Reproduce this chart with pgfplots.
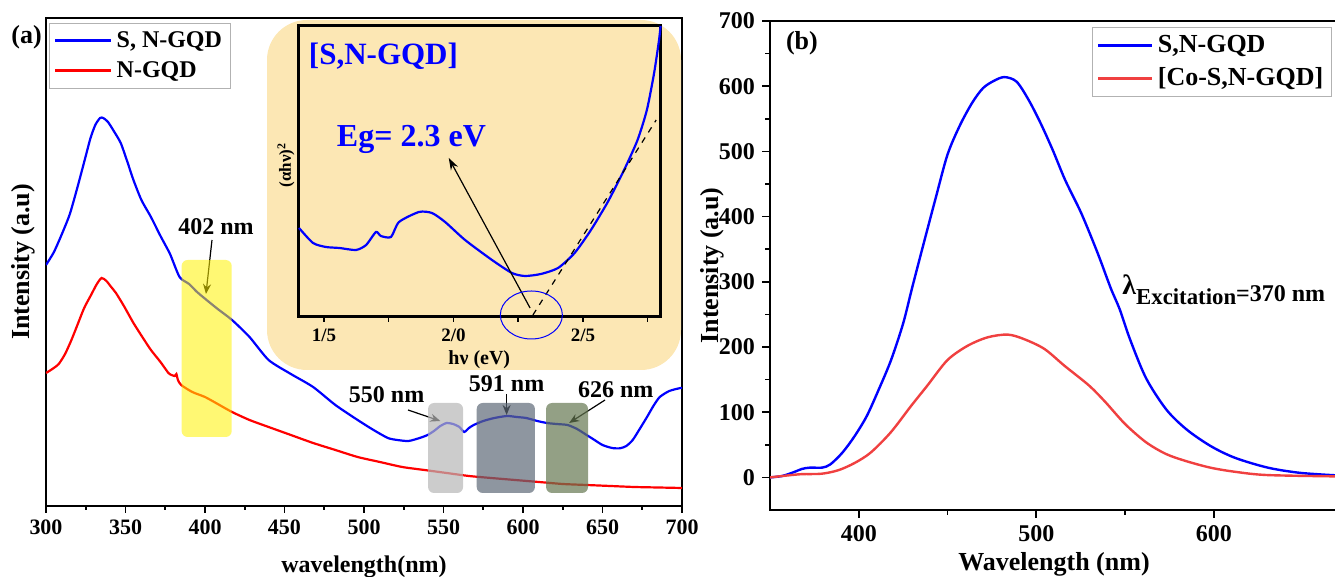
\documentclass[border=0pt]{standalone}
\usepackage{fontspec}
\setmainfont{Liberation Serif}
\usepackage{pgfplots}
\pgfplotsset{compat=1.18}
\usetikzlibrary{arrows.meta}
\definecolor{bgor}{RGB}{252,231,180}
\definecolor{rectgray}{RGB}{182,182,182}
\definecolor{rectslate}{RGB}{94,105,119}
\definecolor{rectgreen}{RGB}{101,119,81}
\definecolor{redb}{RGB}{240,64,64}
\newcommand{\fs}[1]{\bfseries\fontsize{#1}{#1}\selectfont}
\begin{document}
\begin{tikzpicture}[x=1pt,y=1pt]
\useasboundingbox (0,0) rectangle (667.5,288.5);
% ---------------- panel (a)
\begin{axis}[name=A, at={(23pt,35.5pt)}, anchor=south west,
  width=318pt, height=244pt, scale only axis,
  xmin=300, xmax=700, ymin=0, ymax=488,
  axis line style={line width=1pt},
  xtick={300,350,...,700}, minor x tick num=1, ytick=\empty,
  xtick pos=bottom, tick align=outside,
  major tick length=3.5pt, minor tick length=2pt,
  every tick/.style={black, line width=0.8pt},
  /pgf/number format/assume math mode=true,
  xticklabel style={font=\fs{11}},
  xlabel={wavelength(nm)},
  xlabel style={font=\fs{12}, at={(axis description cs:0.5,-0.137)}, anchor=base},
  ylabel={Intensity (a.u)},
  ylabel style={font=\fs{13}, at={(axis description cs:-0.036,0.5)}, anchor=center},
  legend style={at={(0.005,0.99)}, anchor=north west, draw=gray!60, line width=0.5pt,
    font=\fs{12}, row sep=1.5pt, inner sep=2pt, cells={anchor=west}},
  legend image code/.code={\draw[#1, line width=1.5pt] (0pt,0pt) -- (28pt,0pt);},
]
\addplot[blue, line width=1.1pt, smooth, tension=0.4] coordinates {
(300,241)(305,254)(310,272)(315,292)(320,320)(325,350)(328,368)(331,381)(334,388)(336,388)
(339,384)(343,374)(347,363)(351,345)(355,326)(360,306)(366,289)(372,270)(378,252)(384,229)
(390,222)(395,214)(401,206)(408,197)(417,186)(428,169)(440,146)(454,132)(468,119)(482,101)
(496,86)(506,76)(515,68)(521,66)(528,65)(535,68)(540,71)(544,75)(548,80)(552,83)(556,82)
(560,79)(563,74)(566,78)(569,81)(575,85)(582,88)(590,90)(596,89)(602,88)(609,85)(615,83)
(621,82)(628,81)(634,77)(640,71)(645,66)(650,61)(656,58)(661,57.7)(665,60)(669,66)(673,76)
(678,89)(682,100)(686,109)(692,115)(699,118)(700,118)};
\addlegendentry{S, N-GQD}
\addplot[red, line width=1.1pt, smooth, tension=0.4] coordinates {
(300,133)(304,137)(308,142)(312,152)(316,166)(320,182)(324,198)(328,210)(332,222)(335,228)
(338,225)(341,219)(344,213)(349,200)(355,183)(361,168)(366,156)(372,144)(377,133)(379,131)
(381,130)(382,132)(383,126)(385,121)(392,114)(400,109)(408,102)(417,94)(428,86)(440,79)
(454,71)(468,63)(482,56)(496,49)(510,44)(524,39)(538,36)(552,33)(566,30)(580,28)(595,26)
(610,24)(625,22)(640,21)(655,20)(670,19)(685,18.5)(700,18)};
\addlegendentry{N-GQD}
% annotation arrows
\draw[-{Stealth[length=5pt,width=4pt]}, line width=0.6pt] (axis cs:404.4,266) -- (axis cs:400.6,212);
\draw[-{Stealth[length=5pt,width=4pt]}, line width=0.6pt] (axis cs:527.7,96) -- (axis cs:548,85);
\draw[-{Stealth[length=5pt,width=4pt]}, line width=0.6pt] (axis cs:589.7,112) -- (axis cs:589.7,91);
\draw[-{Stealth[length=5pt,width=4pt]}, line width=0.6pt] (axis cs:651.6,106) -- (axis cs:629,83);
% translucent rectangles
\fill[yellow, fill opacity=0.55, rounded corners=3pt] (axis cs:385.3,69) rectangle (axis cs:416.8,246);
\fill[rectgray, fill opacity=0.7, rounded corners=3pt] (axis cs:540.3,13) rectangle (axis cs:562.3,103);
\fill[rectslate, fill opacity=0.7, rounded corners=3pt] (axis cs:570.9,13) rectangle (axis cs:607.5,103);
\fill[rectgreen, fill opacity=0.7, rounded corners=3pt] (axis cs:614.5,13) rectangle (axis cs:640.9,103);
% labels
\node[font=\fs{12}, anchor=base] at (axis cs:406.9,271) {402 nm};
\node[font=\fs{12}, anchor=base] at (axis cs:514.2,103) {550 nm};
\node[font=\fs{12}, anchor=base] at (axis cs:589.7,114) {591 nm};
\node[font=\fs{12}, anchor=base] at (axis cs:658.3,108) {626 nm};
\end{axis}
\node[font=\fs{13}] at (13.25pt,270pt) {(a)};
% inset background
\fill[bgor, rounded corners=20pt] (133.5pt,103.5pt) rectangle (340.5pt,278.5pt);
% ---------------- inset
\begin{axis}[name=I, at={(149pt,130pt)}, anchor=south west,
  width=181.3pt, height=145.5pt, scale only axis,
  xmin=1.4, xmax=2.8, ymin=0, ymax=291,
  axis line style={line width=1.5pt},
  xtick={1.5,2,2.5}, xticklabels={1/5,2/0,2/5},
  minor xtick={1.75,2.25,2.75}, ytick=\empty,
  xtick pos=bottom, tick align=outside,
  major tick length=2.5pt, minor tick length=2.5pt,
  every tick/.style={black, line width=0.8pt},
  xticklabel style={font=\fs{9.5}},
  xlabel={hν (eV)},
  xlabel style={font=\fs{10}, at={(axis description cs:0.5,-0.148)}, anchor=center},
  ylabel={(αhν)\textsuperscript{2}},
  ylabel style={font=\fs{8.5}, at={(axis description cs:-0.033,0.522)}, anchor=center},
  clip=false,
]
\addplot[blue, line width=1.1pt, smooth, tension=0.4] coordinates {
(1.404,89)(1.458,74)(1.508,70)(1.560,69)(1.624,67)(1.663,72)(1.701,85)(1.720,81)(1.759,80)
(1.790,95)(1.867,105)(1.917,104)(1.968,95)(2.045,77)(2.149,57)(2.226,44)(2.276,41)(2.338,43)
(2.404,49)(2.468,64)(2.531,87)(2.596,115)(2.659,147)(2.711,177)(2.747,207)(2.775,244)(2.794,277)(2.8,291)};
\addplot[black, dashed, line width=0.6pt] coordinates {(2.307,2) (2.783,197)};
\draw[-{Stealth[length=6pt,width=4pt]}, line width=0.6pt] (axis cs:2.296,9) -- (axis cs:1.982,159);
\draw[blue, line width=0.5pt] (axis cs:2.301,2) ellipse [x radius=15.5pt, y radius=12pt];
\node[font=\fs{15.5}, text=blue, anchor=base] at (axis cs:1.730,252) {[S,N-GQD]};
\node[font=\fs{16}, text=blue, anchor=base] at (axis cs:1.838,170) {Eg= 2.3 eV};
\end{axis}
% ---------------- panel (b)
\begin{axis}[name=B, at={(385pt,33.5pt)}, anchor=south west,
  width=284pt, height=244.5pt, scale only axis,
  xmin=350, xmax=670, ymin=-50, ymax=700,
  axis line style={line width=1.2pt},
  xtick={400,500,600}, minor x tick num=1,
  ytick={0,100,...,700}, minor y tick num=1,
  tick pos=left, tick align=outside,
  major tick length=4pt, minor tick length=2.5pt,
  every tick/.style={black, line width=0.8pt},
  /pgf/number format/assume math mode=true,
  ticklabel style={font=\fs{12}},
  xlabel={Wavelength (nm)},
  xlabel style={font=\fs{13}, at={(axis description cs:0.5,-0.123)}, anchor=base},
  ylabel={Intensity (a.u)},
  ylabel style={font=\fs{13}, at={(axis description cs:-0.102,0.5)}, anchor=center},
  legend style={at={(0.989,0.9877)}, anchor=north east, draw=gray!60, line width=0.5pt,
    font=\fs{13}, row sep=2pt, inner sep=2pt, cells={anchor=west}},
  legend image code/.code={\draw[#1, line width=1.5pt] (0pt,0pt) -- (27pt,0pt);},
]
\addplot[blue, line width=1.2pt, smooth, tension=0.5] coordinates {
(350,0)(356.6,2)(363.4,8)(368,13)(372.6,15)(379.4,15)(384,20)(390.8,38)(397.6,63)(404.5,94)
(411.3,135)(418.2,180)(425,236)(430,290)(436.5,358)(443.3,428)(450,495)(457,540)(464,575)
(470,597)(476,608)(482,614)(488.9,607)(495.7,579)(502.5,543)(509.3,502)(516.3,456)(525.4,405)
(534.6,344)(542,290)(547,258)(552.8,212)(561.9,152)(573.3,104)(584.7,73.5)(598.3,48)(612,30)
(630.4,15)(648.5,7)(670,3)};
\addlegendentry{S,N-GQD}
\addplot[redb, line width=1.2pt, smooth, tension=0.5] coordinates {
(350,0)(360,3)(368,5)(379,5.6)(388.5,11)(397.6,22)(406.7,38)(418,69)(429.6,110)(438.7,141)
(450,180)(461.4,202)(472.8,215)(484,219)(493.2,212)(504.6,197)(516,171)(529.7,141)(538.8,116)
(550,82)(561.8,54)(573,36)(584.4,25)(598,15)(611.7,8.7)(630,3.6)(670,1.5)};
\addlegendentry{[Co-S,N-GQD]}
\end{axis}
\node[font=\fs{13}, anchor=west] at (389.5pt,267pt) {(b)};
\node[font=\fs{12}, anchor=base west, inner sep=0pt] at (561pt,137.5pt)
  {\raisebox{3.5pt}{\fontsize{14}{14}\selectfont λ}\raisebox{-1.5pt}{\fontsize{11.4}{11.4}\selectfont Excitation}=370 nm};
\end{tikzpicture}
\end{document}
